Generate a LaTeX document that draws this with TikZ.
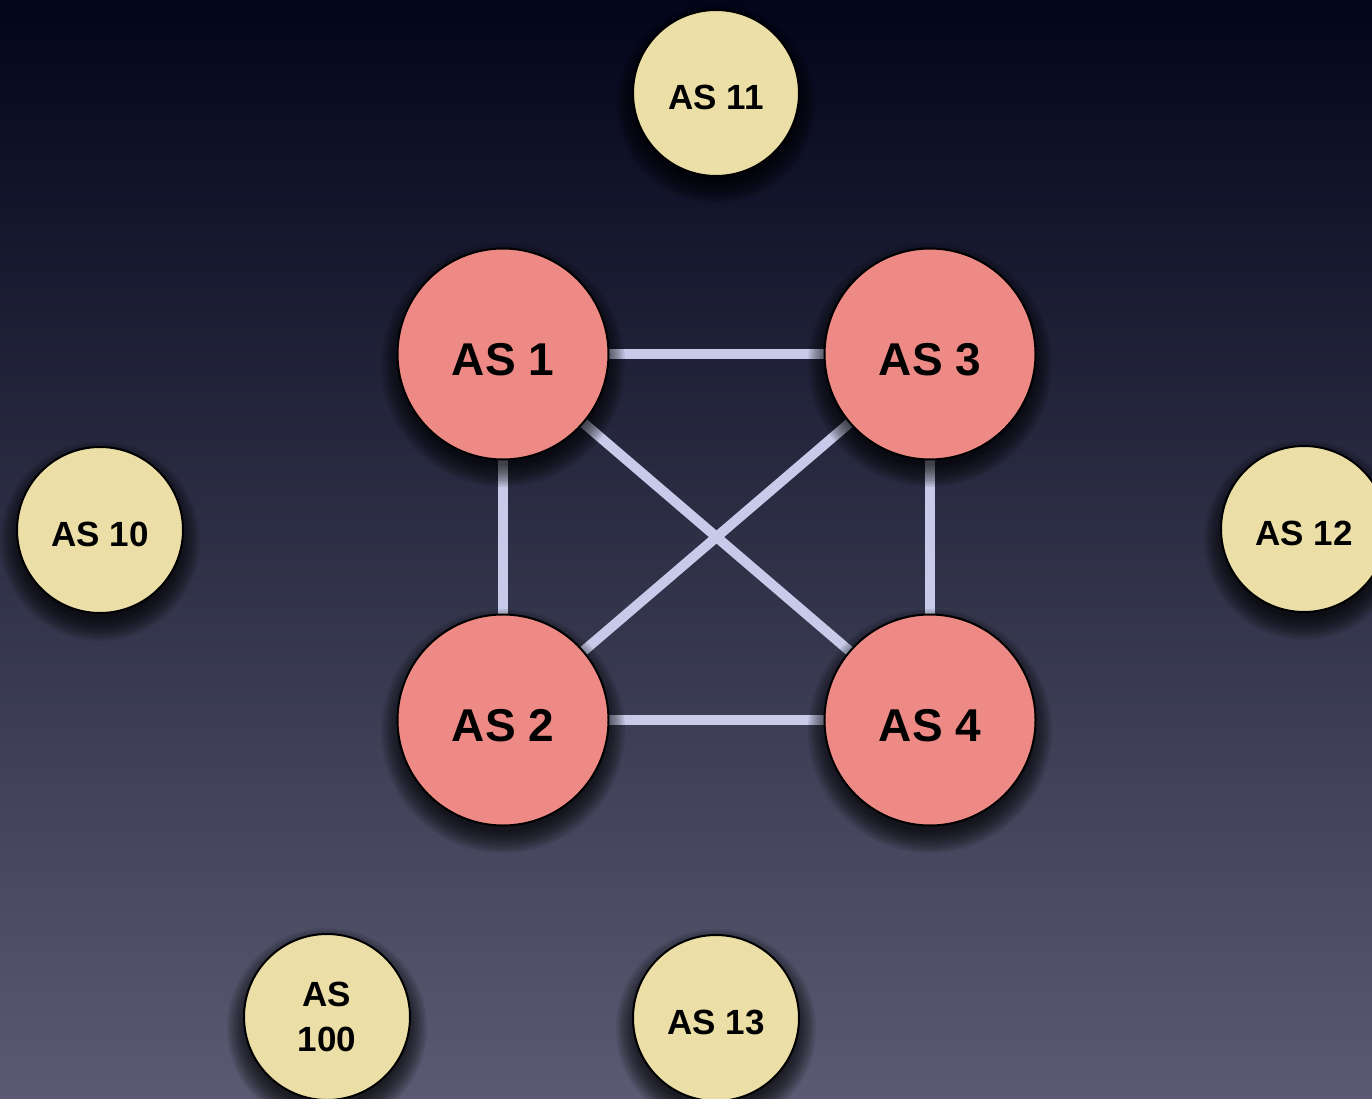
\documentclass[tikz,border=0pt]{standalone}
\usepackage{fontspec}
\setmainfont{Liberation Sans}
\definecolor{bgtop}{HTML}{03051B}
\definecolor{bgmid}{HTML}{25263E}
\definecolor{bgbot}{HTML}{5A5B72}
\definecolor{edgecol}{HTML}{C7CBE9}
\definecolor{corecol}{HTML}{EE8A86}
\definecolor{stubcol}{HTML}{EBDFA7}
\pgfdeclarelayer{bg}
\pgfsetlayers{bg,main}
\newcommand{\mkshadow}[2]{%
  \foreach \k in {0,...,11}{%
    \fill[black,opacity=0.085] ([yshift=-11pt]#1.center) circle[radius={#2-5+2*\k}];}}
\begin{document}
\begin{tikzpicture}[x=1pt,y=-1pt,
  core/.style={circle, draw=black, line width=2pt, fill=corecol, minimum size=211pt, inner sep=0pt,
    font=\fontsize{46}{55}\selectfont\bfseries, text height=43.5pt, text depth=0pt},
  stub/.style={circle, draw=black, line width=2pt, fill=stubcol, minimum size=166pt, inner sep=0pt,
    align=center, font=\fontsize{35}{45}\selectfont\bfseries, text height=33.5pt, text depth=0pt},
  link/.style={draw=edgecol, line width=10pt}]
\useasboundingbox (0,0) rectangle (1372,1099);
% nodes
\node[core] (a1) at (503,354) {AS 1};
\node[core] (a3) at (930,354) {AS 3};
\node[core] (a2) at (503,720) {AS 2};
\node[core] (a4) at (930,720) {AS 4};
\node[stub] (a11) at (716,93) {AS 11};
\node[stub] (a10) at (100,530) {AS 10};
\node[stub] (a12) at (1304,529) {AS 12};
\node[stub, text height=, text depth=] (a100) at (327,1017) {AS\\100};
\node[stub] (a13) at (716,1018) {AS 13};
\begin{pgfonlayer}{bg}
\shade[top color=bgtop, middle color=bgmid, bottom color=bgbot] (0,0) rectangle (1372,1099);
\draw[link] (a1.center) -- (a3.center);
\draw[link] (a2.center) -- (a4.center);
\draw[link] (a1.center) -- (a2.center);
\draw[link] (a3.center) -- (a4.center);
\draw[link] (a1.center) -- (a4.center);
\draw[link] (a3.center) -- (a2.center);
\mkshadow{a1}{105}
\mkshadow{a2}{105}
\mkshadow{a3}{105}
\mkshadow{a4}{105}
\mkshadow{a11}{83}
\mkshadow{a10}{83}
\mkshadow{a12}{83}
\mkshadow{a100}{83}
\mkshadow{a13}{83}
\end{pgfonlayer}
\end{tikzpicture}
\end{document}
